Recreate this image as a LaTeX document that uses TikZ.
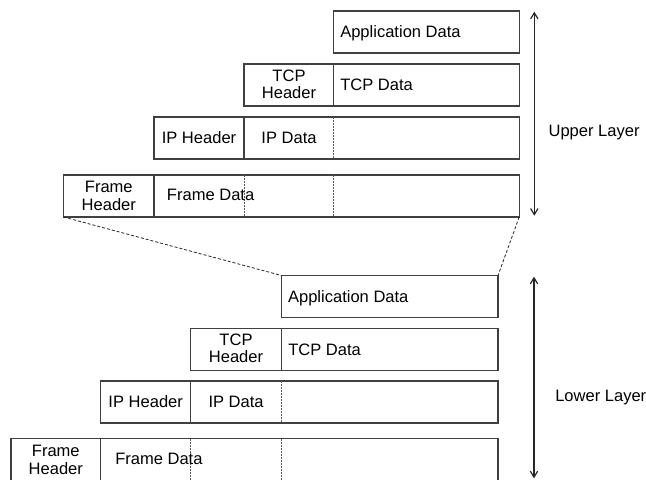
\documentclass[tikz,border=0pt]{standalone}
\usepackage{fontspec}
\setmainfont{Liberation Sans}
\usetikzlibrary{arrows.meta}
\begin{document}
\begin{tikzpicture}[x=0.75pt,y=-0.75pt,
  rowbox/.style={draw=black!75, line width=0.8pt, anchor=north west, minimum height=42*0.75pt, inner sep=0pt, outer sep=0pt},
  sep/.style={draw=black!75, line width=0.8pt},
  dsep/.style={draw=black!65, line width=0.6pt, dash pattern=on 1.5pt off 0.75pt},
  link/.style={draw=black!85, line width=0.6pt, dash pattern=on 2.25pt off 1.5pt},
  lbl/.style={font=\fontsize{12.4}{13.2}\selectfont, inner sep=0pt, align=center},
  span/.style={draw=black!85, line width=0.8pt, {Straight Barb[length=4.5pt,width=5.5pt,line width=0.9pt]}-{Straight Barb[length=4.5pt,width=5.5pt,line width=0.9pt]}}
]
\useasboundingbox (0,0) rectangle (646,479);

% ---------- upper layer ----------
\node[rowbox, minimum width=185.5*0.75pt] (uA) at (333.7,11) {};
\node[rowbox, minimum width=275.2*0.75pt] (uT) at (244,64) {};
\node[rowbox, minimum width=365.2*0.75pt] (uI) at (154,117) {};
\node[rowbox, minimum width=455.7*0.75pt] (uF) at (63.5,175) {};

\draw[sep] (333.7,64) -- (333.7,106);
\draw[sep] (244,117) -- (244,159);
\draw[dsep] (333.7,117) -- (333.7,159);
\draw[sep] (154,175) -- (154,217);
\draw[dsep] (244,175) -- (244,217);
\draw[dsep] (333.7,175) -- (333.7,217);

\node[lbl, anchor=base west] (uAt) at (340,37.5) {Application Data};
\node[lbl] (uTh) at (289,84.2) {TCP\\Header};
\node[lbl, anchor=base west] (uTt) at (340,90.7) {TCP Data};
\node[lbl, anchor=base] (uIh) at (199,143.6) {IP Header};
\node[lbl, anchor=base] (uIt) at (289,143.6) {IP Data};
\node[lbl] (uFh) at (108.8,195.7) {Frame\\Header};
\node[lbl, anchor=base west] (uFt) at (166.7,200.5) {Frame Data};

\coordinate (uTop) at (534.3,11.7);
\coordinate (uBot) at (534.3,215.7);
\draw[span] (uTop) -- (uBot);
\node[lbl, anchor=base west] (uL) at (548.3,136.7) {Upper Layer};

% ---------- lower layer ----------
\node[rowbox, minimum width=216.5*0.75pt] (lA) at (281.5,275.5) {};
\node[rowbox, minimum width=307.3*0.75pt] (lT) at (190.7,328.3) {};
\node[rowbox, minimum width=397.3*0.75pt] (lI) at (100.7,381) {};
\node[rowbox, minimum width=487*0.75pt] (lF) at (11,438.5) {};

\draw[sep] (281.5,328.3) -- (281.5,370.3);
\draw[sep] (190.7,381) -- (190.7,423);
\draw[dsep] (281.5,381) -- (281.5,423);
\draw[sep] (100.7,438.5) -- (100.7,480.5);
\draw[dsep] (190.7,438.5) -- (190.7,480.5);
\draw[dsep] (281.5,438.5) -- (281.5,480.5);

\node[lbl, anchor=base west] (lAt) at (287.8,302) {Application Data};
\node[lbl] (lTh) at (236,348.5) {TCP\\Header};
\node[lbl, anchor=base west] (lTt) at (288,355) {TCP Data};
\node[lbl, anchor=base] (lIh) at (145.7,407.6) {IP Header};
\node[lbl, anchor=base] (lIt) at (236.1,407.6) {IP Data};
\node[lbl] (lFh) at (55.8,459.7) {Frame\\Header};
\node[lbl, anchor=base west] (lFt) at (115,464.5) {Frame Data};

\coordinate (lTop) at (534,276.7);
\coordinate (lBot) at (534,478.3);
\draw[span] (lTop) -- (lBot);
\node[lbl, anchor=base west] (lL) at (555,401) {Lower Layer};

% ---------- zoom links ----------
\draw[link] (uF.south west) -- (lA.north west);
\draw[link] (uF.south east) -- (lA.north east);
\end{tikzpicture}
\end{document}
